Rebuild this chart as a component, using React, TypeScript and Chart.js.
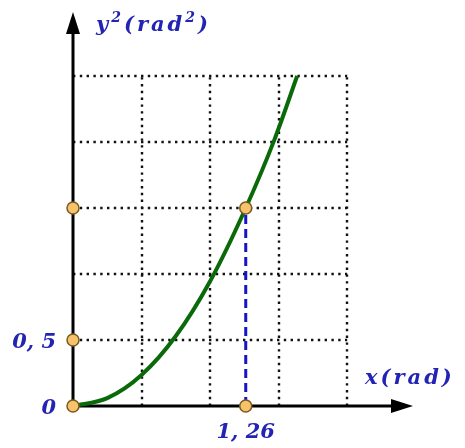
import React, { useEffect, useRef } from "react";
import { Chart, registerables } from "chart.js";

Chart.register(...registerables);

// Curve y² versus x
const curveX = [0, 0.25, 0.5, 0.75, 1.0, 1.26, 1.47, 1.635];
const curveY = [0, 0.06, 0.235, 0.53, 0.945, 1.5, 2.02, 2.5];

// Marked points
const markX = [0, 0, 0, 1.26, 1.26];
const markY = [0, 0.5, 1.5, 0, 1.5];

// Dashed guide
const guideX = [1.26, 1.26];
const guideY = [0, 1.5];

// Grid
const gridXValues = [0.5, 1.0, 1.5, 2.0];
const gridYValues = [0.5, 1.0, 1.5, 2.0, 2.5];
const gridXMax = 2.0;
const gridYMax = 2.5;

// Tick labels
const yTickLabels = [
  { v: 0, t: "0" },
  { v: 0.5, t: "0, 5" },
];
const xTickLabels = [{ v: 1.26, t: "1, 26" }];

const X_MAX = 2.48;
const Y_MAX = 2.985;

const BLUE = "#2323b4";
const FONT = '"DejaVu Serif", serif';

const decorPlugin = {
  id: "decor",
  beforeDatasetsDraw(chart: any) {
    const { ctx, scales } = chart;
    const xs = scales.x;
    const ys = scales.y;
    const x0 = xs.getPixelForValue(0);
    const y0 = ys.getPixelForValue(0);
    const xg = xs.getPixelForValue(gridXMax);
    const yg = ys.getPixelForValue(gridYMax);
    ctx.save();
    ctx.strokeStyle = "#111";
    ctx.lineWidth = 2.4;
    ctx.lineCap = "butt";
    ctx.setLineDash([2.4, 4.4]);
    gridXValues.forEach((v) => {
      const px = Math.round(xs.getPixelForValue(v));
      ctx.beginPath();
      ctx.moveTo(px, y0);
      ctx.lineTo(px, yg);
      ctx.stroke();
    });
    gridYValues.forEach((v) => {
      const py = Math.round(ys.getPixelForValue(v));
      ctx.beginPath();
      ctx.moveTo(x0, py);
      ctx.lineTo(xg, py);
      ctx.stroke();
    });
    ctx.setLineDash([]);
    // axes
    const xEnd = xs.getPixelForValue(X_MAX);
    const yEnd = ys.getPixelForValue(Y_MAX);
    ctx.strokeStyle = "#000";
    ctx.fillStyle = "#000";
    ctx.lineWidth = 3;
    ctx.beginPath();
    ctx.moveTo(x0, y0);
    ctx.lineTo(xEnd - 15, y0);
    ctx.stroke();
    ctx.beginPath();
    ctx.moveTo(x0, y0);
    ctx.lineTo(x0, yEnd + 15);
    ctx.stroke();
    ctx.beginPath();
    ctx.moveTo(xEnd, y0);
    ctx.lineTo(xEnd - 22, y0 - 7);
    ctx.lineTo(xEnd - 22, y0 + 7);
    ctx.closePath();
    ctx.fill();
    ctx.beginPath();
    ctx.moveTo(x0, yEnd);
    ctx.lineTo(x0 - 7, yEnd + 22);
    ctx.lineTo(x0 + 7, yEnd + 22);
    ctx.closePath();
    ctx.fill();
    ctx.restore();
  },
  afterDraw(chart: any) {
    const { ctx, scales } = chart;
    const xs = scales.x;
    const ys = scales.y;
    const x0 = xs.getPixelForValue(0);
    const y0 = ys.getPixelForValue(0);
    ctx.save();
    ctx.fillStyle = BLUE;
    ctx.textBaseline = "alphabetic";
    const big = `italic bold 21px ${FONT}`;
    const small = `italic bold 14px ${FONT}`;
    (ctx as any).letterSpacing = "0px";
    // y tick labels
    ctx.textAlign = "right";
    ctx.font = big;
    yTickLabels.forEach((l) => {
      ctx.fillText(l.t, x0 - 17, ys.getPixelForValue(l.v) + 8);
    });
    ctx.textAlign = "center";
    xTickLabels.forEach((l) => {
      ctx.fillText(l.t, xs.getPixelForValue(l.v), y0 + 32);
    });
    // axis titles
    (ctx as any).letterSpacing = "3px";
    ctx.textAlign = "left";
    const drawParts = (parts: { t: string; sup?: boolean }[], x: number, y: number) => {
      let cx = x;
      parts.forEach((p) => {
        ctx.font = p.sup ? small : big;
        const dy = p.sup ? -9 : 0;
        ctx.fillText(p.t, cx, y + dy);
        cx += ctx.measureText(p.t).width;
      });
    };
    drawParts(
      [{ t: "y" }, { t: "2", sup: true }, { t: "(rad" }, { t: "2", sup: true }, { t: ")" }],
      96,
      31
    );
    drawParts([{ t: "x(rad)" }], 365, 384);
    ctx.restore();
  },
};

export default function App() {
  const ref = useRef<HTMLCanvasElement | null>(null);
  useEffect(() => {
    if (!ref.current) return;
    const chart = new Chart(ref.current, {
      type: "scatter",
      data: {
        datasets: [
          {
            label: "points",
            data: markX.map((x, i) => ({ x, y: markY[i] })),
            pointRadius: 6,
            pointBackgroundColor: "#f6c36c",
            pointBorderColor: "#7a5a20",
            pointBorderWidth: 1.5,
            showLine: false,
            order: 0,
            clip: false,
          } as any,
          {
            label: "guide",
            data: guideX.map((x, i) => ({ x, y: guideY[i] })),
            showLine: true,
            borderColor: "#1515c8",
            borderWidth: 3,
            borderDash: [9, 5],
            pointRadius: 0,
            order: 1,
            clip: false,
          } as any,
          {
            label: "curve",
            data: curveX.map((x, i) => ({ x, y: curveY[i] })),
            showLine: true,
            borderColor: "#0a6a0a",
            borderWidth: 4,
            pointRadius: 0,
            cubicInterpolationMode: "monotone",
            order: 2,
            clip: false,
          } as any,
        ],
      },
      options: {
        animation: false,
        responsive: false,
        maintainAspectRatio: false,
        layout: { padding: { left: 73, right: 52, top: 12, bottom: 42 } },
        plugins: { legend: { display: false }, tooltip: { enabled: false } },
        scales: {
          x: { type: "linear", min: 0, max: X_MAX, display: false },
          y: { type: "linear", min: 0, max: Y_MAX, display: false },
        },
      },
      plugins: [decorPlugin],
    });
    return () => chart.destroy();
  }, []);
  return (
    <div style={{ position: "fixed", left: 0, top: 0, width: 465, height: 448, background: "#fff" }}>
      <canvas ref={ref} width={465} height={448} />
    </div>
  );
}
